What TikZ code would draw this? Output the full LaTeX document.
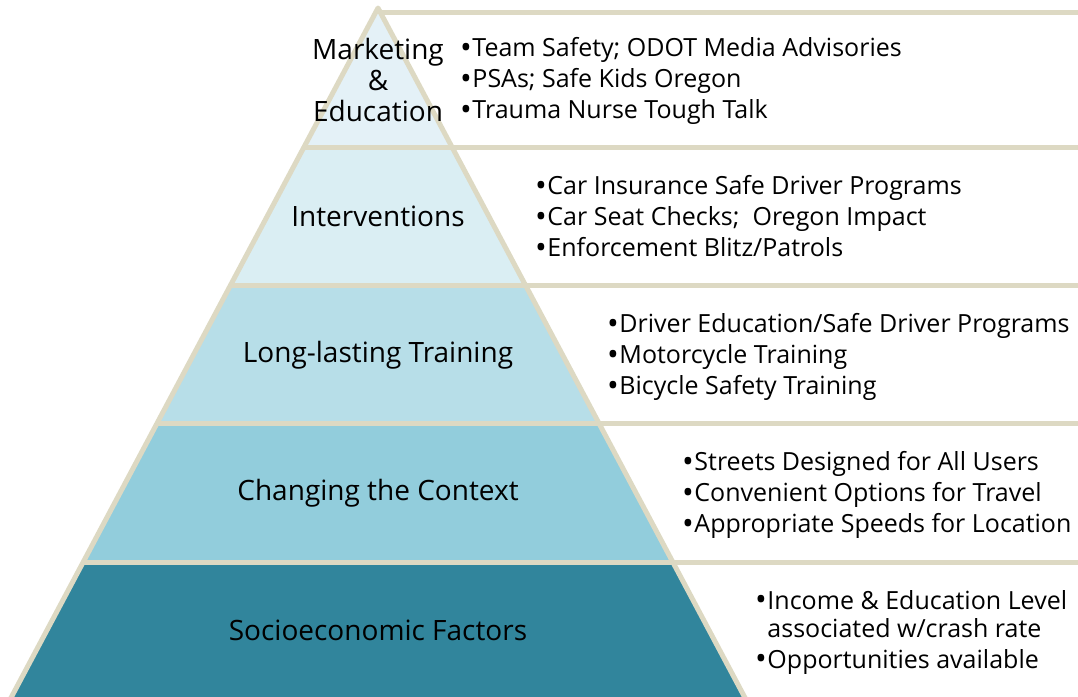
\documentclass[tikz,border=0pt]{standalone}
\usepackage{fontspec}
\setmainfont{Open Sans}
\definecolor{beige}{HTML}{DDD9C3}
\definecolor{tierA}{HTML}{E4F1F7}
\definecolor{tierB}{HTML}{DAEEF3}
\definecolor{tierC}{HTML}{B7DEE8}
\definecolor{tierD}{HTML}{92CDDC}
\definecolor{tierE}{HTML}{31859C}
\newcommand\bul{\raisebox{-1.5pt}{\scalebox{1.25}{•}}\kern0.5pt}
\begin{document}
\begin{tikzpicture}[x=1pt,y=-1pt,
  sep/.style={draw=beige,line width=5pt},
  lbl/.style={font=\fontsize{28}{31}\selectfont,align=center,inner sep=0pt,text=black},
  blist/.style={font=\fontsize{25}{31}\selectfont,align=left,anchor=west,inner sep=0pt,text=black}]
\useasboundingbox (0,0) rectangle (1078,696);
\begin{scope}
\clip (0,0) rectangle (1078,696);
% tier fills
\fill[tierA] (378,8) -- (451.9,147) -- (304.1,147) -- cycle;
\fill[tierB] (304.1,147) -- (451.9,147) -- (525.4,285) -- (230.6,285) -- cycle;
\fill[tierC] (230.6,285) -- (525.4,285) -- (598.8,423) -- (157.2,423) -- cycle;
\fill[tierD] (157.2,423) -- (598.8,423) -- (672.7,562) -- (83.3,562) -- cycle;
\fill[tierE] (83.3,562) -- (672.7,562) -- (751.5,710) -- (4.5,710) -- cycle;
% separators
\coordinate (apex) at (378,8);
\coordinate (bl) at (4.5,710);
\coordinate (br) at (751.5,710);
\coordinate (r0) at (1090,12);
\coordinate (t0) at (380,12);
\draw[sep,line join=round] (bl) -- (apex) -- (br);
\draw[sep] (t0) -- (r0);
\draw[sep] (304.1,147) -- (1090,147);
\draw[sep] (230.6,285) -- (1090,285);
\draw[sep] (157.2,423) -- (1090,423);
\draw[sep] (83.3,562) -- (1090,562);
\end{scope}
% labels
\node[lbl] (l1) at (378,80) {Marketing\\\&\\Education};
\node[lbl] (l2) at (378,216) {Interventions};
\node[lbl] (l3) at (378,355) {Long-lasting Training};
\node[lbl] (l4) at (378,493) {Changing the Context};
\node[lbl] (l5) at (378,630) {Socioeconomic Factors};
% bullet lists
\node[blist] (b1) at (460,81) {\bul Team Safety; ODOT Media Advisories\\\bul PSAs; Safe Kids Oregon\\\bul Trauma Nurse Tough Talk};
\node[blist] (b2) at (535,217) {\bul Car Insurance Safe Driver Programs\\\bul Car Seat Checks;\ \ Oregon Impact\\\bul Enforcement Blitz/Patrols};
\node[blist] (b3) at (607,357) {\bul Driver Education/Safe Driver Programs\\\bul Motorcycle Training\\\bul Bicycle Safety Training};
\node[blist] (b4) at (682,495) {\bul Streets Designed for All Users\\\bul Convenient Options for Travel\\\bul Appropriate Speeds for Location};
\node[blist,font=\fontsize{25}{28}\selectfont] (b5) at (755,632) {\bul Income \& Education Level\\\hphantom{\bul}associated w/crash rate\\[3pt]\bul Opportunities available};
\end{tikzpicture}
\end{document}
